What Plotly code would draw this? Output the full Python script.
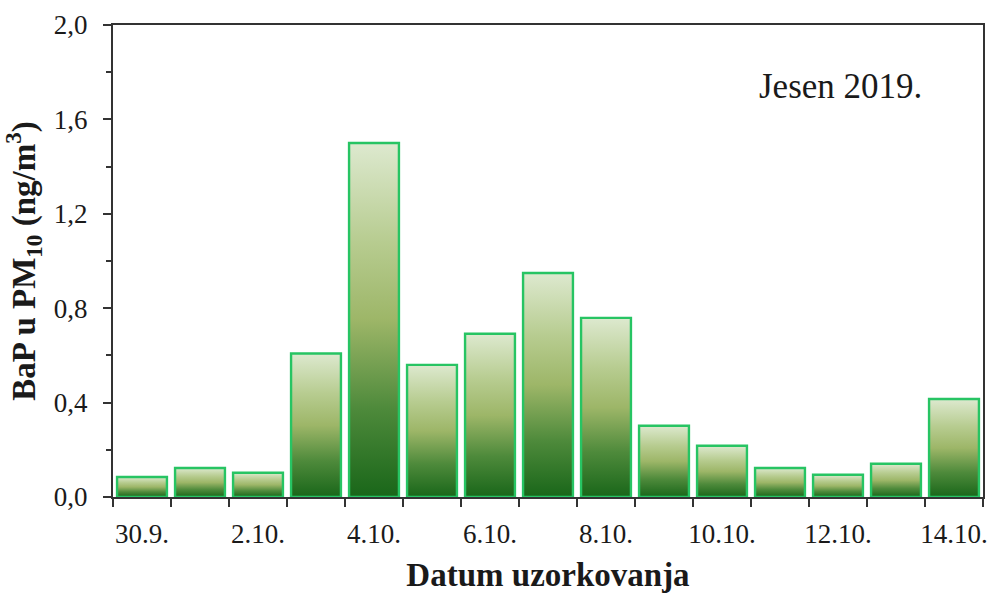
import plotly.graph_objects as go

# ---- data ----
dates = ["30.9.", "1.10.", "2.10.", "3.10.", "4.10.", "5.10.", "6.10.", "7.10.",
         "8.10.", "9.10.", "10.10.", "11.10.", "12.10.", "13.10.", "14.10."]
bap = [0.085, 0.123, 0.103, 0.608, 1.50, 0.560, 0.692, 0.949,
       0.759, 0.302, 0.217, 0.123, 0.094, 0.141, 0.415]
tick_labels = ["30.9.", "2.10.", "4.10.", "6.10.", "8.10.", "10.10.", "12.10.", "14.10."]
season_label = "Jesen 2019."

# ---- style ----
FONT = "Liberation Serif, Times New Roman, serif"
TXT = "#1a1a1a"
AX = "#333333"
BAR_W = 0.86
grad = [[0.0, "#196619"], [0.25, "#4e8a3b"], [0.5, "#9db668"],
        [0.72, "#b7cc90"], [1.0, "#dde9cf"]]

idx = list(range(len(dates)))
label_pos = [dates.index(t) for t in tick_labels]
xrange_ = [-0.5, len(dates) - 0.5]
fig = go.Figure()

# gradient fills (one polygon per bar, derived from data)
for i, v in zip(idx, bap):
    x0, x1 = i - BAR_W / 2, i + BAR_W / 2
    fig.add_trace(go.Scatter(
        x=[x0, x1, x1, x0, x0], y=[0, 0, v, v, 0],
        mode="lines", fill="toself", line=dict(width=0),
        fillgradient=dict(type="vertical", colorscale=grad),
        hoverinfo="skip", showlegend=False))

# bar outlines (on an overlaying axis so they are drawn above the fills)
fig.add_trace(go.Bar(
    x=idx, y=bap, width=BAR_W, customdata=dates, xaxis="x2",
    marker=dict(color="rgba(0,0,0,0)", line=dict(color="#27c463", width=2.4)),
    hovertemplate="%{customdata}: %{y:.2f}<extra></extra>", showlegend=False))

fig.update_layout(
    width=998, height=597,
    margin=dict(l=113, r=10, t=24, b=96),
    paper_bgcolor="white", plot_bgcolor="white",
    separators=", ",
    font=dict(family=FONT, color=TXT, size=27),
    xaxis=dict(
        range=xrange_,
        tickmode="array", tickvals=label_pos, ticktext=tick_labels,
        ticks="outside", ticklen=0, tickcolor=AX,
        minor=dict(tickmode="array",
                   tickvals=[i - 0.5 for i in range(len(dates) + 1)],
                   ticks="outside", ticklen=8, tickwidth=2, tickcolor=AX),
        showline=True, linecolor=AX, linewidth=2, mirror=True,
        showgrid=False, zeroline=False,
        tickfont=dict(size=27, family=FONT, color=TXT),
        ticklabelstandoff=12,
        title=dict(text="<b>Datum uzorkovanja</b>",
                   font=dict(size=33, family=FONT, color=TXT), standoff=14),
    ),
    xaxis2=dict(range=xrange_, overlaying="x", visible=False),
    yaxis=dict(
        range=[0, 2.0], dtick=0.4, tick0=0, tickformat=".1f",
        ticks="outside", ticklen=8, tickwidth=2, tickcolor=AX,
        minor=dict(dtick=0.2, ticks="outside", ticklen=5, tickwidth=2, tickcolor=AX),
        showline=True, linecolor=AX, linewidth=2, mirror=True,
        showgrid=False, zeroline=False,
        tickfont=dict(size=27, family=FONT, color=TXT),
        ticklabelstandoff=10,
        title=dict(text="<b>BaP u PM<sub>10</sub> (ng/m<sup>3</sup>)</b>",
                   font=dict(size=33, family=FONT, color=TXT), standoff=10),
    ),
    annotations=[dict(
        text=season_label, xref="paper", yref="paper",
        x=0.836, y=0.87, xanchor="center", yanchor="middle",
        showarrow=False, font=dict(size=35, family=FONT, color=TXT))],
)

fig.write_html("out.html")
